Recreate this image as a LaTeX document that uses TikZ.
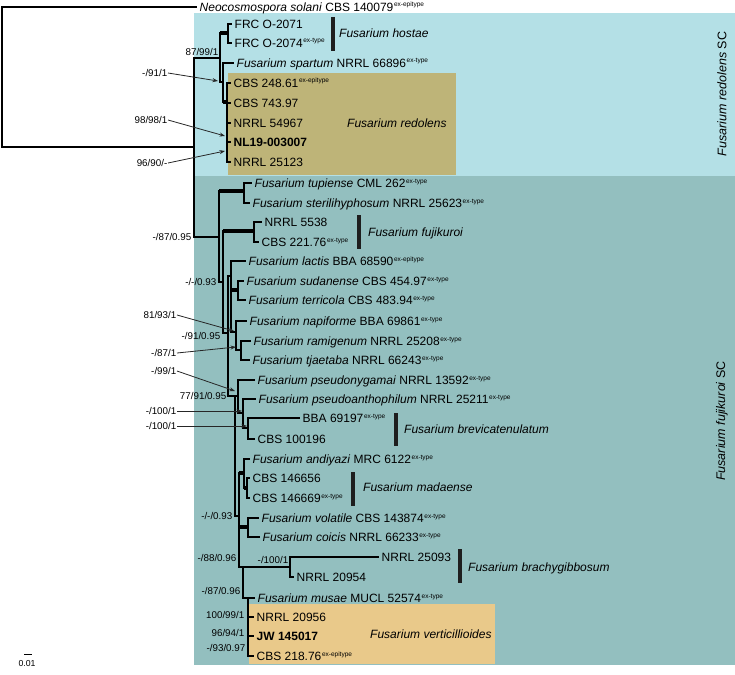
\documentclass[tikz,border=0pt]{standalone}
\usepackage{fontspec}
\setmainfont{Liberation Sans}
\usetikzlibrary{arrows.meta}
\definecolor{bgblue}{HTML}{B4E0E6}
\definecolor{bgteal}{HTML}{93BFBF}
\definecolor{bgolive}{HTML}{BEB478}
\definecolor{bgorange}{HTML}{E9C98A}
\definecolor{barc}{HTML}{1E1E1E}
\definecolor{arrc}{HTML}{262626}
\newcommand{\exs}[1]{\hspace{0.6pt}\raisebox{4.3pt}{\fontsize{6.5}{7}\selectfont #1}}
\begin{document}
\begin{tikzpicture}[x=1pt,y=-1pt,
  tip/.style={anchor=west, inner xsep=3.5pt, inner ysep=0pt, text height=8.6pt, text depth=0pt, font=\fontsize{12}{14}\selectfont},
  sv/.style={anchor=east, inner sep=0.5pt, text height=7.1pt, text depth=0pt, font=\fontsize{9.8}{11}\selectfont},
  br/.style={line width=1.15pt, line cap=rect},
  thk/.style={line width=4pt},
  mid/.style={line width=2.6pt},
  cbar/.style={line width=3.6pt, color=barc},
  arr/.style={-{Stealth[length=5.5pt,width=4pt]}, line width=0.8pt, color=arrc},
  cl/.style={anchor=west, inner sep=0pt, text height=8.6pt, text depth=0pt, font=\fontsize{12}{14}\selectfont\itshape},
  sc/.style={rotate=90, inner sep=0pt, font=\fontsize{12.5}{14}\selectfont},
]
\useasboundingbox (0,0) rectangle (735,674);
% backgrounds
\fill[bgblue] (194,13) rectangle (735,176);
\fill[bgteal] (194,176) rectangle (735,665);
\fill[bgolive] (228,73) rectangle (456,175);
\fill[bgorange] (249,604) rectangle (495,664);

% tips
\node[tip] (neo) at (196,7) {\textit{Neocosmospora solani} CBS 140079\exs{ex-epitype}};
\node[tip] (frc1) at (231,24) {FRC O-2071};
\node[tip] (frc2) at (231,43) {FRC O-2074\exs{ex-type}};
\node[tip] (spar) at (233,63) {\textit{Fusarium spartum} NRRL 66896\exs{ex-type}};
\node[tip] (cbs248) at (230,83) {CBS 248.61\exs{ex-epitype}};
\node[tip] (cbs743) at (230,103) {CBS 743.97};
\node[tip] (n54967) at (230,123) {NRRL 54967};
\node[tip] (nl19) at (230,142) {\textbf{NL19-003007}};
\node[tip] (n25123) at (230,162) {NRRL 25123};
\node[tip] (tup) at (251,183) {\textit{Fusarium tupiense} CML 262\exs{ex-type}};
\node[tip] (ster) at (249,203) {\textit{Fusarium sterilihyphosum} NRRL 25623\exs{ex-type}};
\node[tip] (n5538) at (261,222) {NRRL 5538};
\node[tip] (cbs221) at (258,242) {CBS 221.76\exs{ex-type}};
\node[tip] (lac) at (245,261) {\textit{Fusarium lactis} BBA 68590\exs{ex-epitype}};
\node[tip] (sud) at (243,281) {\textit{Fusarium sudanense} CBS 454.97\exs{ex-type}};
\node[tip] (ter) at (245,300) {\textit{Fusarium terricola} CBS 483.94\exs{ex-type}};
\node[tip] (napi) at (246,321) {\textit{Fusarium napiforme} BBA 69861\exs{ex-type}};
\node[tip] (ram) at (250,341) {\textit{Fusarium ramigenum} NRRL 25208\exs{ex-type}};
\node[tip] (tja) at (249,360) {\textit{Fusarium tjaetaba} NRRL 66243\exs{ex-type}};
\node[tip] (pny) at (254,380) {\textit{Fusarium pseudonygamai} NRRL 13592\exs{ex-type}};
\node[tip] (pan) at (255,399) {\textit{Fusarium pseudoanthophilum} NRRL 25211\exs{ex-type}};
\node[tip] (bba) at (299,418) {BBA 69197\exs{ex-type}};
\node[tip] (cbs100) at (254,439) {CBS 100196};
\node[tip] (andi) at (249,459) {\textit{Fusarium andiyazi} MRC 6122\exs{ex-type}};
\node[tip] (c656) at (249,478) {CBS 146656};
\node[tip] (c669) at (249,498) {CBS 146669\exs{ex-type}};
\node[tip] (vol) at (258,518) {\textit{Fusarium volatile} CBS 143874\exs{ex-type}};
\node[tip] (coi) at (259,537) {\textit{Fusarium coicis} NRRL 66233\exs{ex-type}};
\node[tip] (n25093) at (378,557) {NRRL 25093};
\node[tip] (n20954) at (293,577) {NRRL 20954};
\node[tip] (mus) at (254,598) {\textit{Fusarium musae} MUCL 52574\exs{ex-type}};
\node[tip] (n20956) at (253,617) {NRRL 20956};
\node[tip] (jw) at (253,636) {\textbf{JW 145017}};
\node[tip] (cbs218) at (253,656) {CBS 218.76\exs{ex-epitype}};

% branches: root and redolens SC
\draw[br] (neo.west) -| (2,147) -- (194,147);
\draw[br] (194,58) -- (194,237);
\draw[br] (194,58) -- (220,58);
\draw[br] (220,33) -- (220,82);
\draw[thk] (220,33) -- (228,33);
\draw[br] (frc1.west) -| (228,43) -- (frc2.west);
\draw[br] (220,82) -- (223,82);
\draw[br] (spar.west) -| (223,102);
\draw[thk] (223,102) -- (228,102);
\draw[br] (cbs248.west) -| (227,162) -- (n25123.west);
\draw[br] (227,103) -- (cbs743.west);
\draw[br] (227,123) -- (n54967.west);
\draw[br] (227,142) -- (nl19.west);
\draw[mid] (227,124) -- (227,152);

% fujikuroi SC
\draw[br] (194,237) -- (219,237);
\draw[br] (219,191) -- (219,282);
\draw[thk] (219,191) -- (244,191);
\draw[br] (tup.west) -| (244,203) -- (ster.west);
\draw[br] (219,282) -- (223,282);
\draw[br] (223,231) -- (223,333);
\draw[thk] (223,231) -- (254,231);
\draw[br] (n5538.west) -| (254,242) -- (cbs221.west);
\draw[br] (223,333) -- (228,333);
\draw[br] (228,276) -- (228,396);
\draw[br] (228,276) -- (231,276);
\draw[br] (lac.west) -| (231,332) -- (236,332);
\draw[thk] (231,290) -- (238,290);
\draw[br] (sud.west) -| (238,300) -- (ter.west);
\draw[br] (napi.west) -| (236,350) -- (241,350);
\draw[br] (ram.west) -| (241,360) -- (tja.west);
\draw[br] (228,396) -- (238,396);
\draw[br] (pny.west) -| (238,413) -- (243,413);
\draw[br] (pan.west) -| (243,428) -- (248,428);
\draw[br] (bba.west) -| (248,439) -- (cbs100.west);
\draw[br] (235,396) -- (235,516) -- (239,516);
\draw[br] (239,473) -- (239,567);
\draw[thk] (239,473) -- (244,473);
\draw[br] (andi.west) -| (244,488);
\draw[thk] (244,488) -- (247,488);
\draw[br] (c656.west) -| (247,498) -- (c669.west);
\draw[thk] (239,527) -- (248,527);
\draw[br] (vol.west) -| (248,537) -- (coi.west);
\draw[br] (239,567) -- (290,567);
\draw[br] (n25093.west) -| (290,577) -- (n20954.west);
\draw[br] (243,567) -- (243,598) -- (248,598);
\draw[br] (mus.west) -| (248,656) -- (cbs218.west);
\draw[br] (248,617) -- (n20956.west);
\draw[br] (248,636) -- (jw.west);
\draw[mid] (248,613) -- (248,630);

% support values
\node[sv] (s1) at (219,52) {87/99/1};
\node[sv] (s2) at (168,73) {-/91/1};
\node[sv] (s3) at (168,120) {98/98/1};
\node[sv] (s4) at (168,163) {96/90/-};
\node[sv] (s5) at (192,237) {-/87/0.95};
\node[sv] (s6) at (217,282) {-/-/0.93};
\node[sv] (s7) at (177,315) {81/93/1};
\node[sv] (s8) at (221,336) {-/91/0.95};
\node[sv] (s9) at (177,353) {-/87/1};
\node[sv] (s10) at (177,371) {-/99/1};
\node[sv] (s11) at (227,396) {77/91/0.95};
\node[sv] (s12) at (177,411) {-/100/1};
\node[sv] (s13) at (177,426) {-/100/1};
\node[sv] (s14) at (233,516) {-/-/0.93};
\node[sv] (s15) at (237,558) {-/88/0.96};
\node[sv,anchor=center] (s16) at (273,560) {-/100/1};
\node[sv] (s17) at (241,591) {-/87/0.96};
\node[sv] (s18) at (245,615) {100/99/1};
\node[sv] (s19) at (245,633) {96/94/1};
\node[sv] (s20) at (246,648) {-/93/0.97};

\coordinate (a2) at (218,81);
\coordinate (a3) at (225,136);
\coordinate (a4) at (225,151);
\coordinate (a7) at (234,331);
\coordinate (a9) at (236,347);
\coordinate (a10) at (235,391);
\coordinate (a12) at (242,411);
\coordinate (a13) at (247,426);
\draw[arr] (s2.east) -- (a2);
\draw[arr] (s3.east) -- (a3);
\draw[arr] (s4.east) -- (a4);
\draw[arr] (s7.east) -- (a7);
\draw[arr] (s9.east) -- (a9);
\draw[arr] (s10.east) -- (a10);
\draw[arr] (s12.east) -- (a12);
\draw[arr] (s13.east) -- (a13);

% species bars and labels
\draw[cbar] (333,17) -- (333,51);
\node[cl] (lhost) at (339,33) {Fusarium hostae};
\node[cl] (lred) at (347,123) {Fusarium redolens};
\draw[cbar] (359,215) -- (359,249);
\node[cl] (lfuj) at (368,232) {Fusarium fujikuroi};
\draw[cbar] (396,413) -- (396,446);
\node[cl] (lbrev) at (404,429) {Fusarium brevicatenulatum};
\draw[cbar] (353,472) -- (353,506);
\node[cl] (lmad) at (363,487) {Fusarium madaense};
\draw[cbar] (460,549) -- (460,583);
\node[cl] (lbrach) at (468,567) {Fusarium brachygibbosum};
\node[cl] (lvert) at (370,634) {Fusarium verticillioides};

% species complexes
\node[sc] (scr) at (722,94) {\textit{Fusarium redolens} SC};
\node[sc] (scf) at (722,421) {\textit{Fusarium fujikuroi} SC};

% scale bar
\coordinate (sb1) at (24,654);
\coordinate (sb2) at (32,654);
\draw[line width=0.8pt] (sb1) -- (sb2);
\node[inner sep=0pt, font=\fontsize{8.7}{10}\selectfont] (sbl) at (27,663) {0.01};
\end{tikzpicture}
\end{document}
